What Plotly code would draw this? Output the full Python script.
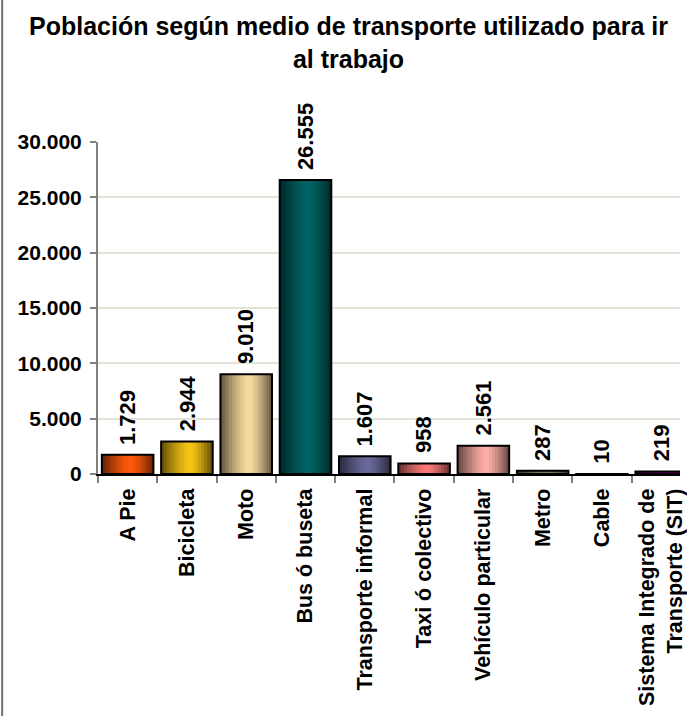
import plotly.graph_objects as go

# Población por medio de transporte utilizado para ir al trabajo
categorias = [
    "A Pie", "Bicicleta", "Moto", "Bus ó buseta", "Transporte informal",
    "Taxi ó colectivo", "Vehículo particular", "Metro", "Cable",
    "Sistema Integrado de<br>Transporte (SIT)",
]
poblacion = [1729, 2944, 9010, 26555, 1607, 958, 2561, 287, 10, 219]
colores_base = [
    "#ff5a0a", "#f6c616", "#f9dca0", "#006466", "#6a6a9c",
    "#ff7a7a", "#ffb0a8", "#7a8a5c", "#6080c0", "#900090",
]
y_ticks = [0, 5000, 10000, 15000, 20000, 25000, 30000]
titulo = "Población según medio de transporte utilizado para ir<br>al trabajo"

FONT = "Liberation Sans, Arial, sans-serif"
BAR_W = 0.87
N_STRIPS = 18


def hex_rgb(h):
    h = h.lstrip("#")
    return tuple(int(h[i:i + 2], 16) for i in (0, 2, 4))


def shade(h, t):
    # cylinder-like shading: dark at both edges, brightest a bit right of centre
    peak = 0.56
    d = abs(t - peak) / (peak if t < peak else 1 - peak)
    f = 1.0 - 0.62 * d ** 1.4
    r, g, b = hex_rgb(h)
    return "rgb({},{},{})".format(int(r * f), int(g * f), int(b * f))


def miles(v):
    return f"{v:,}".replace(",", ".")


fig = go.Figure()

step = BAR_W / N_STRIPS
for k in range(N_STRIPS):
    t = (k + 0.5) / N_STRIPS
    fig.add_trace(go.Bar(
        x=categorias, y=poblacion,
        width=step * 1.6 if k < N_STRIPS - 1 else step,
        offset=-BAR_W / 2 + k * step,
        marker=dict(color=[shade(c, t) for c in colores_base], line=dict(width=0)),
        hoverinfo="skip", showlegend=False,
    ))

# outline of each bar
fig.add_trace(go.Bar(
    x=categorias, y=poblacion, width=BAR_W, offset=-BAR_W / 2,
    marker=dict(color="rgba(0,0,0,0)", line=dict(color="#000000", width=2)),
    showlegend=False,
))

# value labels above the bars
for cat, val in zip(categorias, poblacion):
    fig.add_annotation(
        x=cat, y=val, text=miles(val), textangle=-90,
        xanchor="center", yanchor="bottom", yshift=8, showarrow=False,
        font=dict(family=FONT, size=22, color="#000000", weight="bold"),
    )

# title
fig.add_annotation(
    xref="paper", yref="paper", x=(352 - 98) / 589, y=(474 - 10) / 332,
    xanchor="center", yanchor="top", showarrow=False,
    text=titulo, align="center",
    font=dict(family=FONT, size=25, color="#000000", weight="bold"),
)

plot_left, plot_w = 98, 687 - 98
fig.update_layout(
    width=687, height=716,
    margin=dict(l=plot_left, r=0, t=142, b=242),
    paper_bgcolor="white", plot_bgcolor="white",
    barmode="overlay", separators=",.",
    font=dict(family=FONT, color="#000000"),
    xaxis=dict(
        type="category", range=[-0.5, -0.5 + plot_w / 60.0],
        tickangle=-90, tickson="boundaries", ticks="outside", ticklen=7,
        tickcolor="#808080", tickwidth=2, ticklabelstandoff=4,
        showline=True, linecolor="#000000", linewidth=2,
        tickfont=dict(family=FONT, size=21.5, color="#000000", weight="bold"),
        showgrid=False,
    ),
    yaxis=dict(
        range=[0, 30000], tickvals=y_ticks, tickformat=",d",
        ticks="outside", ticklen=6, tickcolor="#808080", tickwidth=2,
        ticklabelstandoff=4,
        showline=True, linecolor="#808080", linewidth=2,
        gridcolor="#e4e4d6", gridwidth=2, zeroline=False,
        tickfont=dict(family=FONT, size=21, color="#000000", weight="bold"),
    ),
)

# left border of the chart area
plot_h = 716 - 142 - 242
fig.add_shape(
    type="line", xref="paper", yref="paper",
    x0=(1 - plot_left) / plot_w, x1=(1 - plot_left) / plot_w,
    y0=(474 - 716) / plot_h, y1=474 / plot_h,
    line=dict(color="#707070", width=2),
)

fig.write_html("out.html")
